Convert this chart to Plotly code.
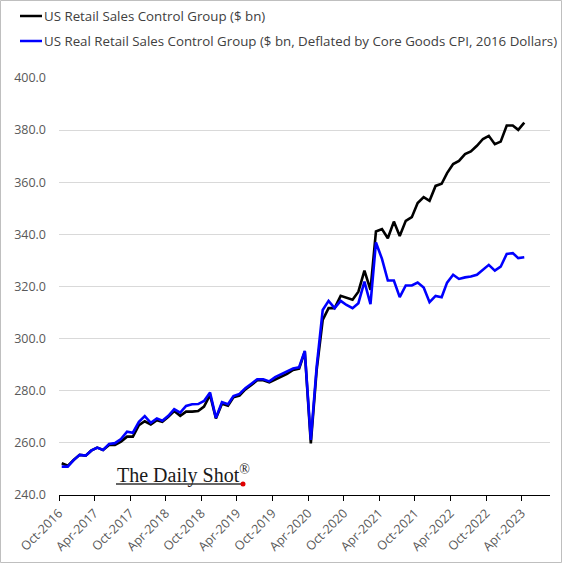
import plotly.graph_objects as go
import pandas as pd

# ---- data ----
start_month = "2016-10-01"
n_months = 79
nominal = [
    252.2, 251.2, 253.4, 255.4, 255.1, 257.0, 258.2, 257.3, 259.2, 259.2,
    260.5, 262.4, 262.4, 266.8, 268.3, 267.1, 268.7, 268.1, 270.0, 272.2,
    270.4, 272.0, 272.0, 272.2, 273.9, 278.4, 269.4, 275.0, 274.3, 277.5,
    278.1, 280.5, 282.2, 284.0, 284.0, 283.2, 284.3, 285.3, 286.5, 288.0,
    288.5, 295.0, 259.8, 288.0, 307.2, 311.7, 311.7, 316.4, 315.7, 314.9,
    318.0, 326.1, 318.7, 341.1, 342.0, 338.5, 344.9, 339.4, 345.2, 346.6,
    352.0, 354.3, 352.9, 358.6, 359.4, 363.5, 367.0, 368.2, 370.8, 371.8,
    374.0, 376.6, 377.8, 374.6, 375.6, 381.8, 381.8, 380.1, 382.9]
real = [
    250.9, 250.9, 253.4, 255.4, 255.1, 257.0, 258.2, 257.3, 259.6, 259.9,
    261.5, 264.3, 263.9, 268.1, 270.3, 267.7, 269.4, 268.5, 270.4, 272.9,
    271.6, 274.2, 274.8, 274.9, 276.1, 279.3, 269.6, 275.6, 274.8, 278.0,
    278.8, 281.0, 282.7, 284.4, 284.4, 283.6, 285.2, 286.3, 287.5, 288.5,
    289.0, 295.3, 261.1, 289.3, 311.0, 314.5, 311.7, 314.5, 312.9, 311.7,
    313.6, 321.9, 313.2, 336.9, 330.6, 322.3, 322.3, 315.9, 320.4, 320.4,
    321.5, 319.6, 314.0, 316.4, 315.9, 321.5, 324.5, 322.9, 323.5, 323.8,
    324.5, 326.6, 328.3, 326.1, 327.6, 332.5, 332.8, 330.9, 331.2]
names = ["US Retail Sales Control Group ($ bn)",
         "US Real Retail Sales Control Group ($ bn, Deflated by Core Goods CPI, 2016 Dollars)"]
colors = ["#000000", "#0000FF"]
tick_dates = pd.date_range("2016-10-01", "2023-04-01", freq="6MS")
tick_labels = [d.strftime("%b-%Y") for d in tick_dates]

dates = pd.date_range(start_month, periods=n_months, freq="MS") + pd.Timedelta(days=14)

W, H = 564, 566
L, R, T, B = 59, 550, 78, 495


def px(xp):
    return (xp - L) / (R - L)


def py(yp):
    return (B - yp) / (B - T)


fig = go.Figure()
for vals, nm, c in zip([nominal, real], names, colors):
    fig.add_trace(go.Scatter(x=dates, y=vals, mode="lines", name=nm,
                             line=dict(color=c, width=2.6), showlegend=False))

shapes = []
annotations = []
# legend (drawn manually)
for i, (nm, c) in enumerate(zip(names, colors)):
    yy = 16 + 25 * i
    shapes.append(dict(type="line", xref="paper", yref="paper",
                       x0=px(20), x1=px(42), y0=py(yy), y1=py(yy),
                       line=dict(color=c, width=2.5)))
    annotations.append(dict(xref="paper", yref="paper", x=px(42), y=py(yy),
                            xanchor="left", yanchor="middle", showarrow=False,
                            text=nm, font=dict(family="Open Sans", size=13.3, color="#404040")))

# logo
annotations.append(dict(xref="paper", yref="paper", x=px(115), y=py(474),
                        xanchor="left", yanchor="middle", showarrow=False,
                        text="The Daily Shot<sup>®</sup>",
                        font=dict(family="Liberation Serif", size=20, color="#1a1a1a")))
shapes.append(dict(type="line", xref="paper", yref="paper",
                   x0=px(116), x1=px(241), y0=py(484), y1=py(484),
                   line=dict(color="#333333", width=1.3)))
shapes.append(dict(type="circle", xref="paper", yref="paper",
                   x0=px(240.5), x1=px(245.5), y0=py(481.5), y1=py(486.5),
                   fillcolor="#E00000", line=dict(width=0)))
# outer border
shapes.append(dict(type="rect", xref="paper", yref="paper",
                   x0=px(0.5), x1=px(561.5), y0=py(0.5), y1=py(562.5),
                   line=dict(color="#BFBFBF", width=1)))

fig.update_layout(
    width=W, height=H,
    margin=dict(l=L, r=W - R, t=T, b=H - B, pad=0),
    paper_bgcolor="white", plot_bgcolor="white",
    shapes=shapes, annotations=annotations,
    font=dict(family="Open Sans", color="#595959"),
)
fig.update_xaxes(
    type="date", range=["2016-10-01", "2023-08-25"],
    tickvals=list(tick_dates), ticktext=tick_labels, tickangle=-45,
    showline=True, linecolor="#000000", linewidth=1,
    ticks="outside", ticklen=5, tickcolor="#000000",
    showgrid=False, zeroline=False,
    tickfont=dict(family="Open Sans", size=12.5, color="#595959"),
)
fig.update_yaxes(
    range=[240, 400], dtick=20, tick0=240, tickformat=".1f",
    showgrid=True, gridcolor="#D9D9D9", gridwidth=1, zeroline=False,
    showline=False, ticks="", ticklabelstandoff=12,
    tickfont=dict(family="Open Sans", size=12.5, color="#595959"),
)

fig.write_html("out.html")
